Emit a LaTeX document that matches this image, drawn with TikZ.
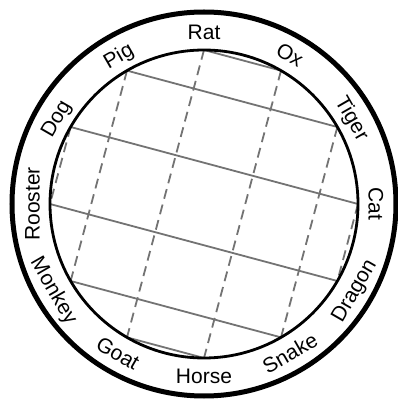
\documentclass[tikz,border=0pt]{standalone}
\usepackage{fontspec}
\setmainfont{Liberation Sans}
\usetikzlibrary{calc}
\begin{document}
\begin{tikzpicture}[x=1pt,y=1pt,
  gridsolid/.style={draw=black!55,line width=1.8pt},
  griddash/.style={draw=black!55,line width=1.8pt,dash pattern=on 10pt off 6pt},
  animal/.style={font=\fontsize{21}{25}\selectfont,text height=15pt,text depth=0pt,inner sep=0pt}]
\useasboundingbox (0,0) rectangle (397,402);
\coordinate (C) at (204,198);
\foreach \k in {0,...,11}{
  \coordinate (p\k) at ($(C)+(30*\k:154)$);
}
% solid chords
\foreach \a/\b in {2/3,1/4,0/5,11/6,10/7,9/8}{
  \draw[gridsolid] (p\a) -- (p\b);
}
% dashed chords
\foreach \a/\b in {0/11,1/10,2/9,3/8,4/7,5/6}{
  \draw[griddash] (p\a) -- (p\b);
}
\draw[line width=2.8pt] (C) circle[radius=154];
\draw[line width=5pt] (C) circle[radius=192];
% labels
\foreach \n/\t in {Rat/90,Ox/60,Tiger/30,Cat/0,Rooster/180,Dog/150,Pig/120}{
  \node[animal,rotate=\t-90] (\n) at ($(C)+(\t:172)$) {\n};
}
\foreach \n/\t in {Dragon/-30,Snake/-60,Horse/-90,Goat/-120,Monkey/-150}{
  \node[animal,rotate=\t+90] (\n) at ($(C)+(\t:172)$) {\n};
}
\end{tikzpicture}
\end{document}
